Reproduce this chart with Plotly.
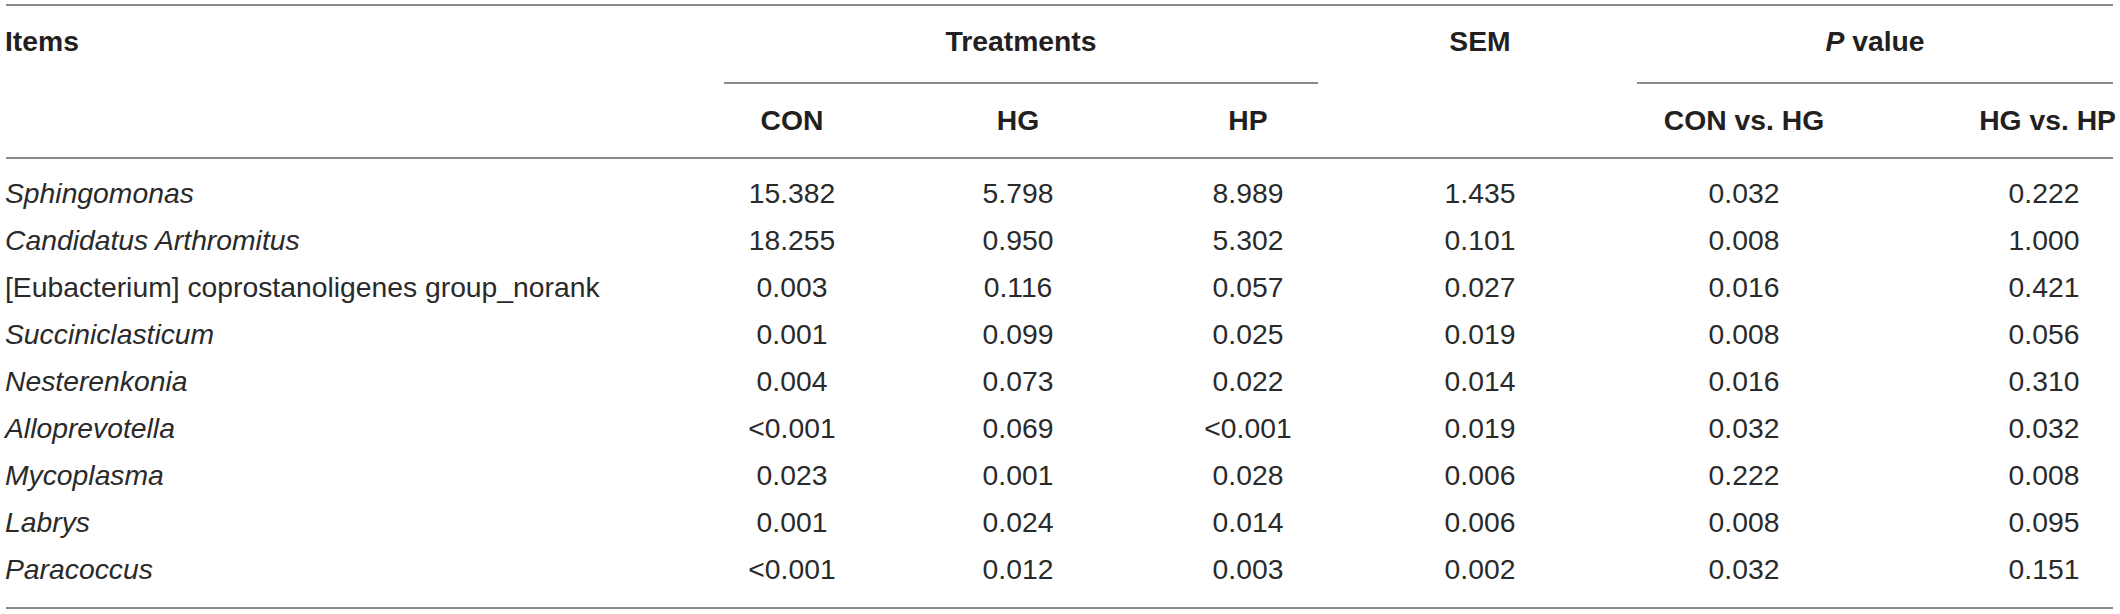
import plotly.graph_objects as go

# ---------------- data ----------------
items = [
    "<i>Sphingomonas</i>",
    "<i>Candidatus Arthromitus</i>",
    "[Eubacterium] coprostanoligenes group_norank",
    "<i>Succiniclasticum</i>",
    "<i>Nesterenkonia</i>",
    "<i>Alloprevotella</i>",
    "<i>Mycoplasma</i>",
    "<i>Labrys</i>",
    "<i>Paracoccus</i>",
]
con = ["15.382", "18.255", "0.003", "0.001", "0.004", "<0.001", "0.023", "0.001", "<0.001"]
hg = ["5.798", "0.950", "0.116", "0.099", "0.073", "0.069", "0.001", "0.024", "0.012"]
hp = ["8.989", "5.302", "0.057", "0.025", "0.022", "<0.001", "0.028", "0.014", "0.003"]
sem = ["1.435", "0.101", "0.027", "0.019", "0.014", "0.019", "0.006", "0.006", "0.002"]
p_con_hg = ["0.032", "0.008", "0.016", "0.008", "0.016", "0.032", "0.222", "0.008", "0.032"]
p_hg_hp = ["0.222", "1.000", "0.421", "0.056", "0.310", "0.032", "0.008", "0.095", "0.151"]

group_headers = ["Items", "Treatments", "SEM", "<i>P</i> value"]
sub_headers = ["CON", "HG", "HP", "CON vs. HG", "HG vs. HP"]

# ---------------- layout constants (page pixels) ----------------
W, H = 2120, 614
FONT = "Liberation Sans, Arial, sans-serif"
FS = 28.3
TXT = "#231f20"
BODY_TXT = "#2a2a2a"
LINE = "#8a8a8a"
x_left = 5
x_right = 2116
col_x = {"CON": 792, "HG": 1018, "HP": 1248, "SEM": 1480, "CVH": 1744, "HVH": 2044}
treat_x, pval_x = 1021, 1875
y_head1, y_head2 = 44, 123
row0, row_step = 196, 47
y_top, y_sub, y_headline, y_bottom = 5, 83, 158, 608
line_x0, line_x1 = 6, 2113

rows_y = [row0 + i * row_step for i in range(len(items))]

fig = go.Figure()

def txt(xs, ys, texts, pos, bold=False, color=TXT):
    fig.add_trace(go.Scatter(
        x=xs, y=ys, mode="text",
        text=[f"<b>{t}</b>" if bold else t for t in texts],
        textposition=pos,
        textfont=dict(family=FONT, size=FS, color=color),
        hoverinfo="skip", showlegend=False, cliponaxis=False,
    ))

# header row 1
txt([x_left], [y_head1], [group_headers[0]], "middle right", bold=True)
txt([treat_x], [y_head1], [group_headers[1]], "middle center", bold=True)
txt([col_x["SEM"]], [y_head1], [group_headers[2]], "middle center", bold=True)
txt([pval_x], [y_head1], [group_headers[3]], "middle center", bold=True)

# header row 2
txt([col_x["CON"], col_x["HG"], col_x["HP"], col_x["CVH"]], [y_head2] * 4,
    sub_headers[:4], "middle center", bold=True)
txt([x_right], [y_head2], [sub_headers[4]], "middle left", bold=True)

# body
txt([x_left] * len(items), rows_y, items, "middle right", color=BODY_TXT)
for key, vals in [("CON", con), ("HG", hg), ("HP", hp), ("SEM", sem),
                  ("CVH", p_con_hg), ("HVH", p_hg_hp)]:
    txt([col_x[key]] * len(vals), rows_y, vals, "middle center", color=BODY_TXT)

# rules
def hline(x0, x1, y):
    fig.add_shape(type="line", xref="x", yref="y", x0=x0, x1=x1, y0=y, y1=y,
                  line=dict(color=LINE, width=2))

hline(line_x0, line_x1, y_top)
hline(724, 1318, y_sub)
hline(1637, line_x1, y_sub)
hline(line_x0, line_x1, y_headline)
hline(line_x0, line_x1, y_bottom)

fig.update_layout(
    width=W, height=H,
    margin=dict(l=0, r=0, t=0, b=0),
    paper_bgcolor="white", plot_bgcolor="white",
    xaxis=dict(range=[0, W], visible=False, fixedrange=True),
    yaxis=dict(range=[H, 0], visible=False, fixedrange=True),
)

fig.write_html(
    "out.html",
    config={"displayModeBar": False},
    post_script="document.body.style.margin='0';document.body.style.overflow='hidden';",
)
